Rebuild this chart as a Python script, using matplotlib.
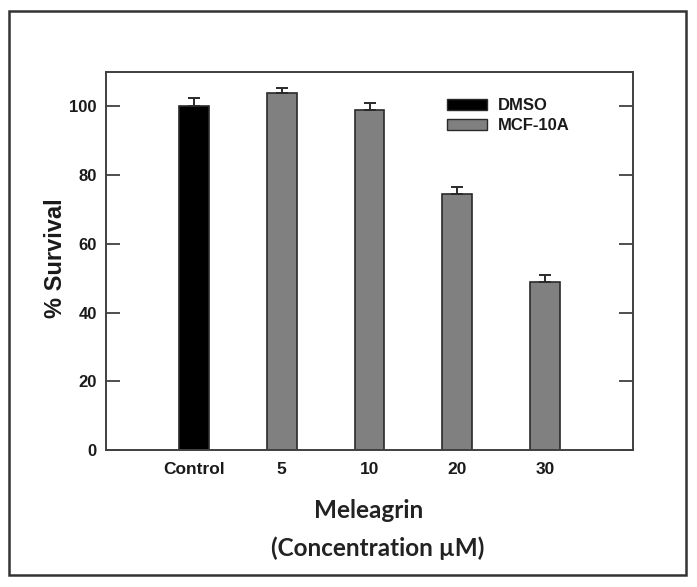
import matplotlib
matplotlib.use("Agg")
import matplotlib.pyplot as plt
from matplotlib.patches import Rectangle, Patch

categories = ["Control", "5", "10", "20", "30"]
survival = [100.1, 103.8, 98.9, 74.6, 48.8]
errors = [2.3, 1.6, 2.2, 1.9, 2.0]
series = ["DMSO", "MCF-10A", "MCF-10A", "MCF-10A", "MCF-10A"]
colors = {"DMSO": "#000000", "MCF-10A": "#808080"}
yticks = [0, 20, 40, 60, 80, 100]

plt.rcParams['font.family'] = ['Liberation Sans', 'DejaVu Sans']

fig = plt.figure(figsize=(6.97, 5.87), dpi=100)
ax = fig.add_axes([106/697, 1-450/587, (633-106)/697, (450-72)/587])

x = list(range(len(categories)))
bar_colors = [colors[s] for s in series]
ax.bar(x, survival, width=0.34, color=bar_colors, edgecolor="#2a2a2a", linewidth=1.2, zorder=2)
ax.errorbar(x, survival, yerr=[[0]*len(errors), errors], fmt="none", ecolor="#2a2a2a",
            elinewidth=1.4, capsize=4, capthick=1.4, zorder=3)

ax.set_xlim(-1, 5)
ax.set_ylim(0, 110)
ax.set_yticks(yticks)
ax.set_yticklabels([str(t) for t in yticks], fontsize=12, fontweight="bold", color="#1a1a1a")
ax.set_xticks(x)
ax.set_xticklabels(categories, fontsize=12.5, fontweight="bold", color="#1a1a1a")
ax.tick_params(axis="x", length=0, pad=9)
ax.tick_params(axis="y", direction="in", length=10, width=1.3, color="#404040",
               right=True, pad=6.5)
for s in ax.spines.values():
    s.set_color("#404040")
    s.set_linewidth(1.4)

ax.set_ylabel("% Survival", fontsize=17, fontweight="bold", color="#1a1a1a")
ax.yaxis.set_label_coords((67-106)/527, 0.508)

handles = [Patch(facecolor=colors[k], edgecolor="#2a2a2a", linewidth=1.0) for k in ["DMSO", "MCF-10A"]]
ax.legend(handles, ["DMSO", "MCF-10A"], loc="upper left", bbox_to_anchor=(0.619, 0.97),
          frameon=False, prop={"weight": "bold", "size": 12}, handlelength=2.4,
          handleheight=0.6, handletextpad=0.65, labelspacing=0.3,
          labelcolor="#1a1a1a")

fig.text(369/697, 1-510/587, "Meleagrin", ha="center", va="center",
         fontsize=17.5, fontweight="bold", family=["Lato", "DejaVu Sans"], color="#222222")
fig.text(378/697, 1-548/587, "(Concentration \u00b5M)", ha="center", va="center",
         fontsize=17.5, fontweight="bold", family=["Lato", "DejaVu Sans"], color="#222222")

fig.patches.append(Rectangle((9/697, 1-575/587), (686-9)/697, (575-11)/587,
                             transform=fig.transFigure, fill=False,
                             edgecolor="#333333", linewidth=1.8))

fig.savefig("out.png", dpi=100)
